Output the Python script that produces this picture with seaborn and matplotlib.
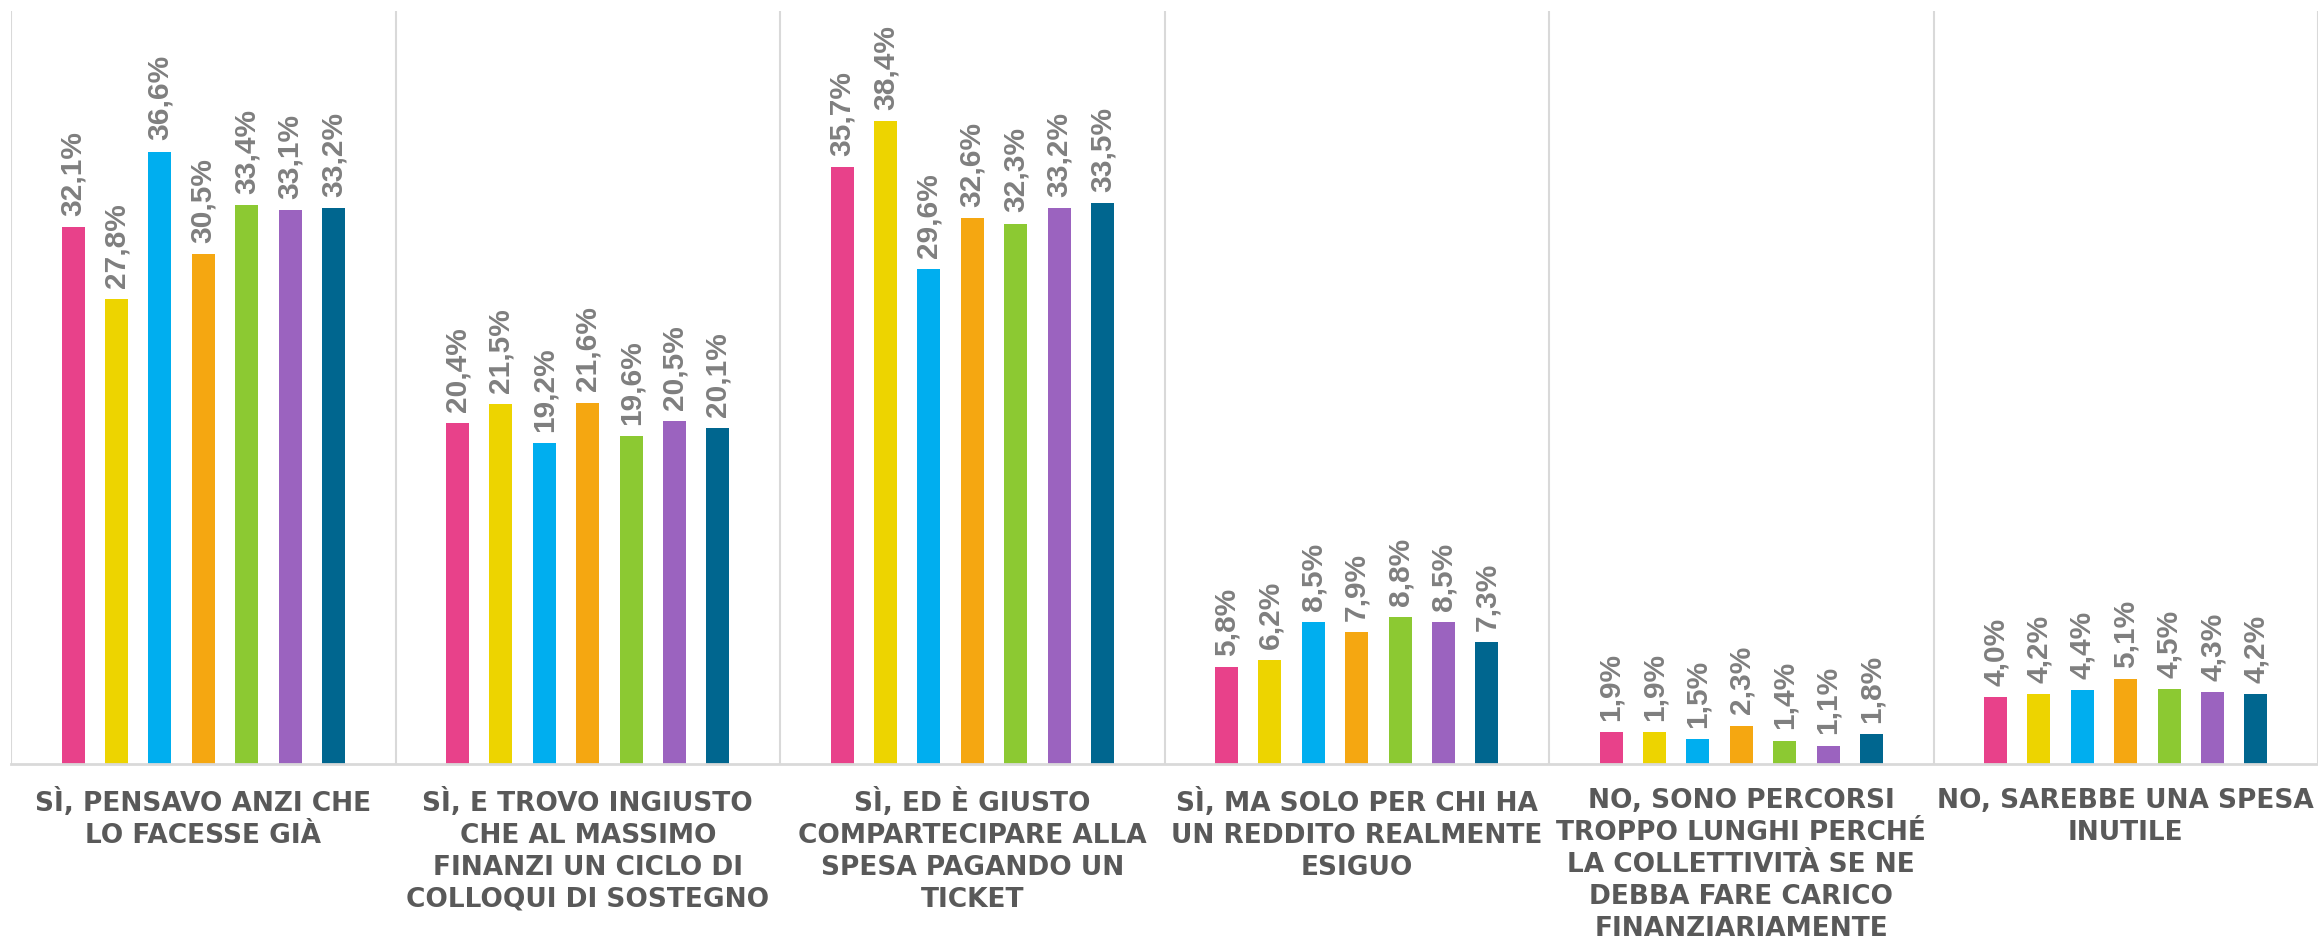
import matplotlib
matplotlib.use("Agg")
import matplotlib.pyplot as plt
import seaborn as sns
import pandas as pd
import numpy as np

categories = [
    "SÌ, PENSAVO ANZI CHE\nLO FACESSE GIÀ",
    "SÌ, E TROVO INGIUSTO\nCHE AL MASSIMO\nFINANZI UN CICLO DI\nCOLLOQUI DI SOSTEGNO",
    "SÌ, ED È GIUSTO\nCOMPARTECIPARE ALLA\nSPESA PAGANDO UN\nTICKET",
    "SÌ, MA SOLO PER CHI HA\nUN REDDITO REALMENTE\nESIGUO",
    "NO, SONO PERCORSI\nTROPPO LUNGHI PERCHÉ\nLA COLLETTIVITÀ SE NE\nDEBBA FARE CARICO\nFINANZIARIAMENTE",
    "NO, SAREBBE UNA SPESA\nINUTILE",
]
series = ["Serie 1", "Serie 2", "Serie 3", "Serie 4", "Serie 5", "Serie 6", "Serie 7"]

serie_1 = [32.1, 20.4, 35.7, 5.8, 1.9, 4.0]
serie_2 = [27.8, 21.5, 38.4, 6.2, 1.9, 4.2]
serie_3 = [36.6, 19.2, 29.6, 8.5, 1.5, 4.4]
serie_4 = [30.5, 21.6, 32.6, 7.9, 2.3, 5.1]
serie_5 = [33.4, 19.6, 32.3, 8.8, 1.4, 4.5]
serie_6 = [33.1, 20.5, 33.2, 8.5, 1.1, 4.3]
serie_7 = [33.2, 20.1, 33.5, 7.3, 1.8, 4.2]

colors = ["#E8418A", "#EDD400", "#00AEEF", "#F5A711", "#8CC932", "#9B63BF", "#00668F"]

all_values = [serie_1, serie_2, serie_3, serie_4, serie_5, serie_6, serie_7]
rows = []
for s, vals in zip(series, all_values):
    for c, v in zip(categories, vals):
        rows.append({"cat": c, "serie": s, "val": v})
df = pd.DataFrame(rows)

sns.set_style("white")
plt.rcParams["font.family"] = ["DejaVu Sans"]

W, H = 2318, 940
fig = plt.figure(figsize=(W / 100, H / 100), dpi=100)
fig.patch.set_facecolor("white")
ax = fig.add_axes([11 / W, (H - 764) / H, (W - 11) / W, (764 - 11) / H])
ax.set_facecolor("none")

sns.barplot(data=df, x="cat", y="val", hue="serie", order=categories,
            hue_order=series, palette=colors, width=0.79, gap=0.47,
            saturation=1, legend=False, errorbar=None, linewidth=0, ax=ax)

for cont in ax.containers:
    ax.bar_label(cont, labels=[f"{v:.1f}%".replace(".", ",") for v in cont.datavalues],
                 rotation=90, padding=8, color="#7F7F7F", fontsize=21.5,
                 fontweight="bold", family=["Liberation Sans", "DejaVu Sans"])

ax.set_ylim(0, 45)
ax.set_xlim(-0.5, len(categories) - 0.5)
ax.set_yticks([])
ax.set_xlabel("")
ax.set_ylabel("")
ax.set_xticks(np.arange(-0.5, len(categories), 1.0), minor=True)
ax.grid(which="minor", axis="x", color="#D9D9D9", linewidth=1.5)
ax.tick_params(axis="x", which="both", length=0, pad=17)
for lab in ax.get_xticklabels():
    lab.set_fontsize(19)
    lab.set_fontweight("bold")
    lab.set_color("#595959")
    lab.set_linespacing(1.3)
    lab.set_va("top")
for side in ["top", "right", "left"]:
    ax.spines[side].set_visible(False)
ax.spines["bottom"].set_color("#D9D9D9")
ax.spines["bottom"].set_linewidth(2)

fig.savefig("out.png", dpi=100, facecolor="white")
